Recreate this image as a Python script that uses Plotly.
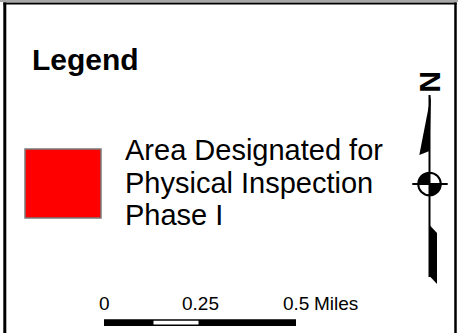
"""
Map legend panel: legend swatch, north arrow and scale bar.
"""

import math
import plotly.graph_objects as go

W, H = 458, 333
FONT = "Liberation Sans, Arial, sans-serif"

# Legend content
LEGEND_TITLE = "Legend"
LEGEND_LABEL_LINES = ["Area Designated for", "Physical Inspection", "Phase I"]
LEGEND_COLOR = "#FF0000"

# Scale bar content
SCALE_TICKS = [0, 0.25, 0.5]
SCALE_TICK_TEXT = ["0", "0.25", "0.5"]
SCALE_SEGMENTS = [0, 0.125, 0.25, 0.5]
SCALE_SEGMENT_FILL = ["black", "white", "black"]
SCALE_UNIT = "Miles"

NORTH_LABEL = "N"

# scale bar geometry (pixels)
BAR_X0 = 104
PX_PER_MILE = 384
BAR_Y0, BAR_Y1 = 319.3, 326


def bar_x(v):
    return BAR_X0 + v * PX_PER_MILE


def quadrant(cx, cy, r, a0, a1, n=16):
    # pie-slice polygon, angles in degrees (0 = east, 90 = up on screen)
    pts = ["M %.2f,%.2f" % (cx, cy)]
    for i in range(n + 1):
        a = math.radians(a0 + (a1 - a0) * i / n)
        pts.append("L %.2f,%.2f" % (cx + r * math.cos(a), cy - r * math.sin(a)))
    return " ".join(pts) + " Z"


fig = go.Figure()
shapes = []
annotations = []

# Frame
shapes.append(dict(type="line", x0=0, x1=W, y0=1, y1=1,
                   line=dict(color="#A8A8A8", width=2)))
shapes.append(dict(type="line", x0=3.3, x1=456.7, y0=3.5, y1=3.5,
                   line=dict(color="black", width=2)))
shapes.append(dict(type="line", x0=4.8, x1=4.8, y0=2.5, y1=H,
                   line=dict(color="black", width=3)))
shapes.append(dict(type="line", x0=455.5, x1=455.5, y0=2.5, y1=H,
                   line=dict(color="black", width=2.5)))

# Title
annotations.append(dict(x=30, y=59.5, text="<b>%s</b>" % LEGEND_TITLE,
                        xanchor="left", yanchor="middle", showarrow=False,
                        font=dict(family=FONT, size=30, color="black")))

# Swatch
shapes.append(dict(type="rect", x0=25, x1=101, y0=149, y1=218,
                   fillcolor=LEGEND_COLOR, line=dict(color="#7A7A7A", width=1.5)))

line_y = [150.3, 182.5, 214.7]
for txt, yy in zip(LEGEND_LABEL_LINES, line_y):
    annotations.append(dict(x=123, y=yy, text=txt, xanchor="left", yanchor="middle",
                            showarrow=False,
                            font=dict(family=FONT, size=29, color="black")))

# Scale bar
shapes.append(dict(type="rect", x0=bar_x(SCALE_SEGMENTS[0]), x1=bar_x(SCALE_SEGMENTS[-1]),
                   y0=BAR_Y0, y1=BAR_Y1, fillcolor="black", line=dict(width=0)))
for a, b, c in zip(SCALE_SEGMENTS[:-1], SCALE_SEGMENTS[1:], SCALE_SEGMENT_FILL):
    if c == "white":
        shapes.append(dict(type="rect", x0=bar_x(a) + 1.5, x1=bar_x(b) - 1.5,
                           y0=BAR_Y0 + 1.4, y1=BAR_Y1 - 1.4,
                           fillcolor="white", line=dict(width=0)))
for v, t in zip(SCALE_TICKS, SCALE_TICK_TEXT):
    annotations.append(dict(x=bar_x(v), y=303.5, text=t, xanchor="center", yanchor="middle",
                            showarrow=False, font=dict(family=FONT, size=19, color="black")))
annotations.append(dict(x=bar_x(SCALE_TICKS[-1]) + 16, y=303.5, text=SCALE_UNIT,
                        xanchor="left", yanchor="middle", showarrow=False,
                        font=dict(family=FONT, size=19, color="black")))

# North arrow
NX, NCY, NR = 429.5, 184, 11.3
annotations.append(dict(x=431, y=82, text="<b>%s</b>" % NORTH_LABEL, textangle=90,
                        xanchor="center", yanchor="middle", showarrow=False,
                        font=dict(family=FONT, size=30, color="black")))
shapes.append(dict(type="path", path="M 431,95 L 419.3,155 L %s,151 Z" % NX,
                   fillcolor="black", line=dict(width=0)))
shapes.append(dict(type="path", path="M %s,225 L 437,233 L 437,284 L %s,276 Z" % (NX, NX),
                   fillcolor="black", line=dict(width=0)))
shapes.append(dict(type="line", x0=NX, x1=NX, y0=95, y1=277,
                   line=dict(color="black", width=2)))
# filled quadrants (upper-left, lower-right)
shapes.append(dict(type="path", path=quadrant(NX, NCY, NR, 90, 180),
                   fillcolor="black", line=dict(width=0)))
shapes.append(dict(type="path", path=quadrant(NX, NCY, NR, 270, 360),
                   fillcolor="black", line=dict(width=0)))
shapes.append(dict(type="circle", x0=NX - NR, x1=NX + NR, y0=NCY - NR, y1=NCY + NR,
                   line=dict(color="black", width=2)))
shapes.append(dict(type="line", x0=412.3, x1=447.7, y0=NCY, y1=NCY,
                   line=dict(color="black", width=2)))

fig.update_layout(
    width=W, height=H,
    margin=dict(l=0, r=0, t=0, b=0),
    paper_bgcolor="white", plot_bgcolor="white",
    xaxis=dict(range=[0, W], visible=False, fixedrange=True),
    yaxis=dict(range=[H, 0], visible=False, fixedrange=True),
    shapes=shapes, annotations=annotations,
    showlegend=False,
)

fig.write_html("out.html", config={"displayModeBar": False},
               post_script="document.body.style.margin='0';document.body.style.overflow='hidden';")
